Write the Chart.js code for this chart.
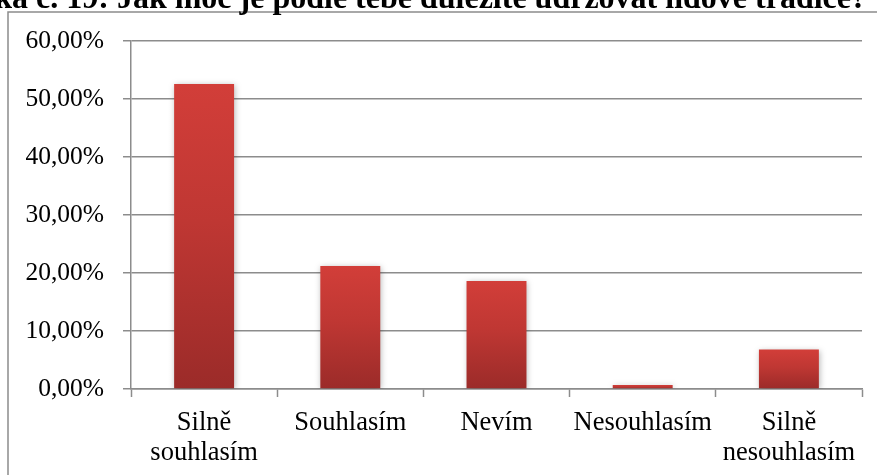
<!DOCTYPE html>
<html lang="cs">
<head>
  <meta charset="UTF-8">
  <title>Otázka č. 19</title>
  <script src="https://cdn.jsdelivr.net/npm/chart.js"></script>
  <style>
    html, body { margin: 0; padding: 0; background: #fff; }
    #wrap { width: 877px; height: 475px; }
  </style>
</head>
<body>
  <div id="wrap"><canvas id="myBarChart"></canvas></div>

  <script>
    // data
    const titleText = 'Otázka č. 19: Jak moc je podle tebe důležité udržovat lidové tradice?';
    const categories = [['Silně', 'souhlasím'], 'Souhlasím', 'Nevím', 'Nesouhlasím', ['Silně', 'nesouhlasím']];
    const values = [52.6, 21.2, 18.6, 0.7, 6.8];
    const yTicks = [0, 10, 20, 30, 40, 50, 60];

    const gridGray = '#8c8c8c';
    const serif = '"Liberation Serif", "Times New Roman", serif';

    function barGradient(context) {
      const chart = context.chart;
      if (!chart.chartArea || !chart.scales.y) return '#c23a35';
      const y = chart.scales.y;
      const top = y.getPixelForValue(context.raw);
      const base = y.getPixelForValue(0);
      if (!isFinite(top) || Math.abs(base - top) < 1) return '#cf3c37';
      const g = chart.ctx.createLinearGradient(0, top, 0, base);
      g.addColorStop(0, '#d23e39');
      g.addColorStop(0.45, '#bf3733');
      g.addColorStop(1, '#9b2b29');
      return g;
    }

    // frame, cut-off title and bar shadow
    const decor = {
      id: 'decor',
      beforeDraw(chart) {
        const ctx = chart.ctx;
        ctx.save();
        ctx.fillStyle = '#fff';
        ctx.fillRect(0, 0, chart.width, chart.height);
        ctx.strokeStyle = gridGray;
        ctx.lineWidth = 1.5;
        ctx.beginPath();
        ctx.moveTo(8, chart.height + 5);
        ctx.lineTo(8, 12);
        ctx.lineTo(chart.width + 5, 12);
        ctx.stroke();
        ctx.fillStyle = '#000';
        ctx.font = 'bold 32px ' + serif;
        ctx.textAlign = 'right';
        ctx.textBaseline = 'alphabetic';
        ctx.fillText(titleText, 867, 8);
        ctx.restore();
      },
      beforeDatasetDraw(chart) {
        const ctx = chart.ctx;
        ctx.save();
        ctx.shadowColor = 'rgba(0, 0, 0, 0.28)';
        ctx.shadowBlur = 6;
        ctx.shadowOffsetX = 1;
        ctx.shadowOffsetY = 1;
      },
      afterDatasetDraw(chart) {
        chart.ctx.restore();
      }
    };

    const barCtx = document.getElementById('myBarChart').getContext('2d');
    new Chart(barCtx, {
      type: 'bar',
      data: {
        labels: categories,
        datasets: [{
          label: 'Odpovědi',
          data: values,
          backgroundColor: barGradient,
          borderWidth: 0,
          barPercentage: 0.41,
          categoryPercentage: 1
        }]
      },
      options: {
        responsive: true,
        maintainAspectRatio: false,
        animation: false,
        layout: {
          padding: { left: 0, top: 41, right: 15, bottom: 0 }
        },
        plugins: {
          legend: { display: false },
          tooltip: { enabled: false }
        },
        scales: {
          x: {
            grid: {
              drawOnChartArea: false,
              drawTicks: true,
              tickLength: 8,
              tickWidth: 1.5,
              tickColor: gridGray
            },
            border: { color: gridGray, width: 1.5 },
            ticks: {
              color: '#000',
              padding: 11,
              maxRotation: 0,
              autoSkip: false,
              font: { family: serif, size: 26.5, lineHeight: 1.13 }
            },
            afterFit(scale) { scale.height = 86; }
          },
          y: {
            min: 0,
            max: 60,
            afterBuildTicks(scale) {
              scale.ticks = yTicks.map(v => ({ value: v }));
            },
            grid: {
              color: gridGray,
              lineWidth: 1.5,
              drawTicks: true,
              tickLength: 8,
              tickColor: gridGray
            },
            border: { color: gridGray, width: 1.5 },
            ticks: {
              color: '#000',
              padding: 19,
              font: { family: serif, size: 25.5 },
              callback: v => v.toFixed(2).replace('.', ',') + '%'
            },
            afterFit(scale) { scale.width = 131; }
          }
        }
      },
      plugins: [decor]
    });
  </script>
</body>
</html>
